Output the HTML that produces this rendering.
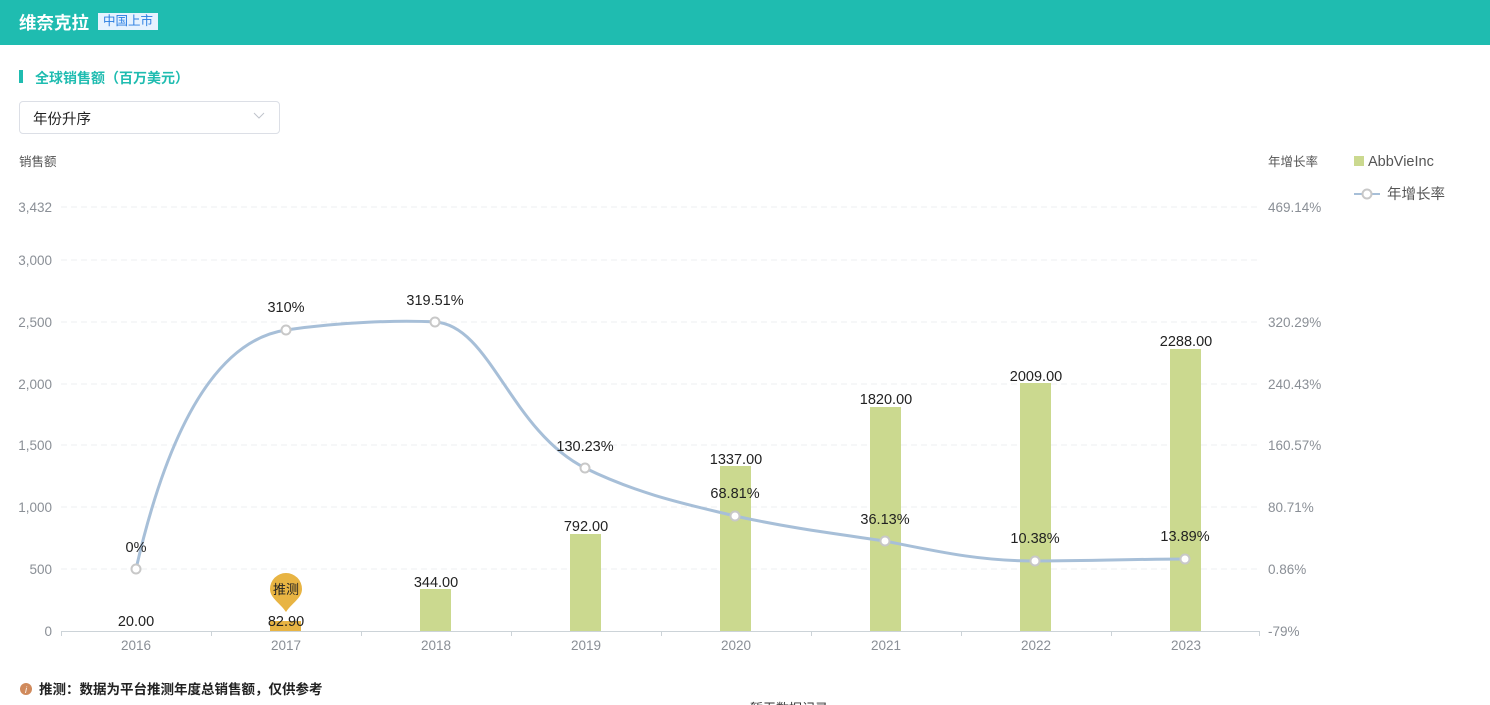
<!DOCTYPE html>
<html><head><meta charset="utf-8"><style>
body{margin:0;width:1490px;height:705px;overflow:hidden;background:#fff;font-family:"Liberation Sans","Noto Sans CJK SC",sans-serif;position:relative}
.hdr{position:absolute;left:0;top:0;width:1490px;height:45px;background:#1fbcb0}
.t{position:absolute;white-space:nowrap}
</style></head><body>
<div class="hdr"></div>
<div class="t" style="left:19px;top:10px;font-size:17.5px;font-weight:bold;color:#fff">维奈克拉</div>
<div class="t" style="left:98px;top:13px;height:17px;line-height:17px;padding:0 5px;font-size:12.5px;color:#2a7de1;background:#e6f2ff">中国上市</div>
<div class="t" style="left:19px;top:70px;width:4px;height:13px;background:#1fbcb0"></div>
<div class="t" style="left:35px;top:68px;font-size:14px;font-weight:bold;color:#1fbcb0">全球销售额（百万美元）</div>
<div class="t" style="left:19px;top:101px;width:259px;height:31px;border:1px solid #dcdfe6;border-radius:4px"></div>
<div class="t" style="left:33px;top:108px;font-size:14.5px;color:#222">年份升序</div>
<svg class="t" style="left:253px;top:112px" width="12" height="8"><path d="M1 1 L6 6 L11 1" fill="none" stroke="#c0c4cc" stroke-width="1"/></svg>
<div class="t" style="left:19px;top:151px;font-size:12.5px;color:#555">销售额</div>
<div class="t" style="left:1268px;top:151px;font-size:12.5px;color:#555">年增长率</div>
<svg class="t" style="left:0;top:0" width="1490" height="705">
<g stroke="#eceff2" stroke-dasharray="6,4" stroke-width="1">
<line x1="61" x2="1260" y1="207" y2="207"/><line x1="61" x2="1260" y1="260" y2="260"/><line x1="61" x2="1260" y1="322" y2="322"/><line x1="61" x2="1260" y1="384" y2="384"/><line x1="61" x2="1260" y1="445" y2="445"/><line x1="61" x2="1260" y1="507" y2="507"/><line x1="61" x2="1260" y1="569" y2="569"/>
</g>
<line x1="61" x2="1260" y1="631.5" y2="631.5" stroke="#ccd3d8"/>
<g stroke="#ccd3d8"><line x1="61.5" x2="61.5" y1="631" y2="636"/><line x1="211.5" x2="211.5" y1="631" y2="636"/><line x1="361.5" x2="361.5" y1="631" y2="636"/><line x1="511.5" x2="511.5" y1="631" y2="636"/><line x1="661.5" x2="661.5" y1="631" y2="636"/><line x1="811.5" x2="811.5" y1="631" y2="636"/><line x1="961.5" x2="961.5" y1="631" y2="636"/><line x1="1111.5" x2="1111.5" y1="631" y2="636"/><line x1="1259.5" x2="1259.5" y1="631" y2="636"/></g>
<g font-size="13.5" fill="#8a8f96" text-anchor="end">
<text x="52" y="212">3,432</text><text x="52" y="265">3,000</text><text x="52" y="327">2,500</text><text x="52" y="389">2,000</text><text x="52" y="450">1,500</text><text x="52" y="512">1,000</text><text x="52" y="574">500</text><text x="52" y="636">0</text>
</g>
<g font-size="13.5" fill="#8a8f96">
<text x="1268" y="212">469.14%</text><text x="1268" y="327">320.29%</text><text x="1268" y="389">240.43%</text><text x="1268" y="450">160.57%</text><text x="1268" y="512">80.71%</text><text x="1268" y="574">0.86%</text><text x="1268" y="636">-79%</text>
</g>
<g font-size="13.5" fill="#8a8f96" text-anchor="middle">
<text x="136" y="650">2016</text><text x="286" y="650">2017</text><text x="436" y="650">2018</text><text x="586" y="650">2019</text><text x="736" y="650">2020</text><text x="886" y="650">2021</text><text x="1036" y="650">2022</text><text x="1186" y="650">2023</text>
</g>
<rect x="270" y="621" width="31" height="10" fill="#e8b443"/>
<g fill="#cbd98f">
<rect x="420" y="589" width="31" height="42"/><rect x="570" y="534" width="31" height="97"/><rect x="720" y="466" width="31" height="165"/><rect x="870" y="407" width="31" height="224"/><rect x="1020" y="383" width="31" height="248"/><rect x="1170" y="349" width="31" height="282"/>
</g>
<path d="M136,569 C170,420 220,340 286,330 C340,322 400,320 435,322 C490,325 510,430 585,468 C640,495 690,505 735,516 C790,528 830,533 885,541 C940,552 980,561 1035,561 C1090,561 1140,559 1185,559" fill="none" stroke="#a7bfd8" stroke-width="3"/>
<g fill="#fff" stroke="#c8c8c8" stroke-width="2">
<circle cx="136" cy="569" r="4.5"/><circle cx="286" cy="330" r="4.5"/><circle cx="435" cy="322" r="4.5"/><circle cx="585" cy="468" r="4.5"/><circle cx="735" cy="516" r="4.5"/><circle cx="885" cy="541" r="4.5"/><circle cx="1035" cy="561" r="4.5"/><circle cx="1185" cy="559" r="4.5"/>
</g>
<path d="M286,612 C280,603 270,598 270,589 A16,16 0 1 1 302,589 C302,598 292,603 286,612 Z" fill="#e8b443"/>
<g font-size="14.5" fill="#222" text-anchor="middle">
<text x="286" y="594" font-size="13">推测</text>
<text x="136" y="626">20.00</text><text x="286" y="626">82.90</text><text x="436" y="587">344.00</text><text x="586" y="531">792.00</text><text x="736" y="464">1337.00</text><text x="886" y="404">1820.00</text><text x="1036" y="381">2009.00</text><text x="1186" y="346">2288.00</text>
<text x="136" y="552">0%</text><text x="286" y="312">310%</text><text x="435" y="305">319.51%</text><text x="585" y="451">130.23%</text><text x="735" y="498">68.81%</text><text x="885" y="524">36.13%</text><text x="1035" y="543">10.38%</text><text x="1185" y="541">13.89%</text>
</g>
<rect x="1354" y="156" width="10" height="10" fill="#cbd98f"/>
<text x="1368" y="166" font-size="14.5" fill="#555">AbbVieInc</text>
<line x1="1354" x2="1380" y1="194" y2="194" stroke="#a7bfd8" stroke-width="2"/>
<circle cx="1367" cy="194" r="4.5" fill="#fff" stroke="#c8c8c8" stroke-width="2"/>
<text x="1387" y="199" font-size="14.5" fill="#555">年增长率</text>
<circle cx="26" cy="689" r="6" fill="#d08a5c"/>
<text x="26" y="693" font-size="9" fill="#fff" text-anchor="middle" font-style="italic">i</text>
<text x="39" y="694" font-size="13.5" fill="#222" font-weight="bold">推测：数据为平台推测年度总销售额，仅供参考</text>
<text x="750" y="713" font-size="13" fill="#333">暂无数据记录</text>
</svg>
</body></html>
